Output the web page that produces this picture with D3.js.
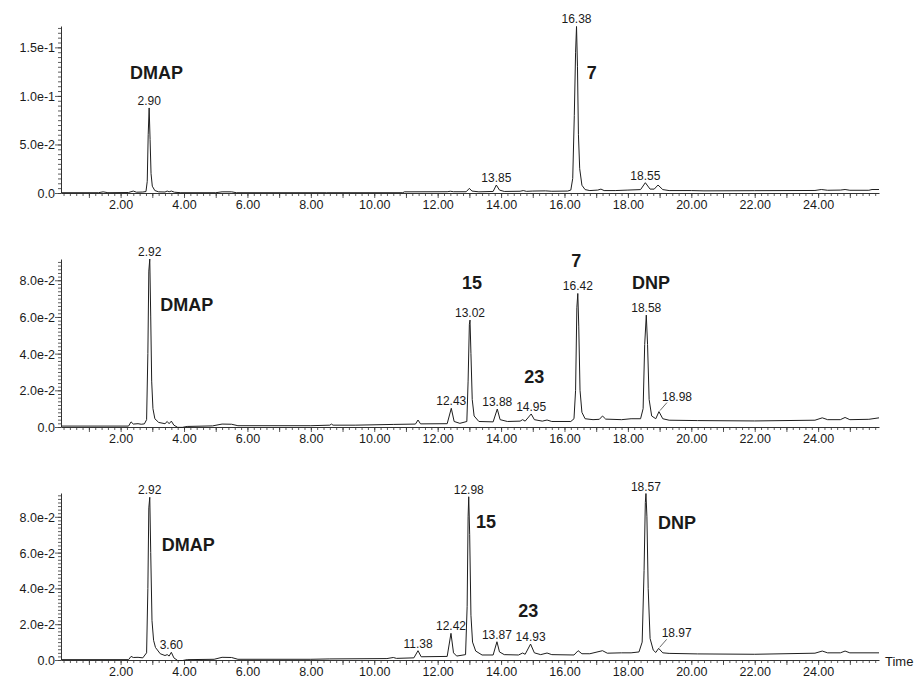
<!DOCTYPE html>
<html>
<head>
<meta charset="utf-8">
<script src="https://cdn.jsdelivr.net/npm/d3@7"></script>
<style>
  html, body { margin: 0; padding: 0; background: #fff; }
  svg { display: block; }
  text { font-family: "Liberation Sans", Arial, Helvetica, sans-serif; fill: #1a1a1a; }
</style>
</head>
<body>
<svg id="chart" width="919" height="679"></svg>
<script>
// ---- Chromatogram traces: retention time (min) and detector response ----
const trace1Time = [0.13,1.30,1.45,1.60,2.25,2.40,2.50,2.70,2.80,2.84,2.87,2.90,2.93,2.96,3.00,3.08,3.20,3.40,3.47,3.53,3.60,3.70,3.90,5.00,5.20,5.50,5.65,8.50,10.90,10.95,12.30,12.40,12.50,12.90,13.00,13.08,13.30,13.75,13.85,13.95,14.10,14.60,14.70,14.80,15.00,15.40,15.60,16.10,16.20,16.26,16.31,16.35,16.38,16.41,16.44,16.48,16.55,16.65,16.80,17.05,17.15,17.25,17.60,18.00,18.40,18.55,18.70,18.83,18.95,19.10,19.30,20.00,20.40,22.00,23.90,24.10,24.30,24.70,24.85,25.00,25.60,25.70,25.92];
const trace1Value = [0.0003,0.0003,0.0012,0.0003,0.0005,0.0020,0.0008,0.0010,0.0015,0.0120,0.0600,0.0876,0.0550,0.0200,0.0070,0.0025,0.0012,0.0010,0.0020,0.0012,0.0020,0.0008,0.0003,0.0003,0.0012,0.0012,0.0003,0.0003,0.0003,0.0012,0.0013,0.0018,0.0013,0.0013,0.0048,0.0020,0.0012,0.0016,0.0082,0.0030,0.0016,0.0018,0.0025,0.0017,0.0020,0.0022,0.0018,0.0020,0.0030,0.0150,0.0800,0.1450,0.1715,0.1300,0.0600,0.0250,0.0080,0.0035,0.0025,0.0030,0.0040,0.0025,0.0025,0.0030,0.0035,0.0106,0.0040,0.0040,0.0082,0.0035,0.0025,0.0025,0.0022,0.0024,0.0026,0.0036,0.0028,0.0030,0.0036,0.0028,0.0028,0.0036,0.0036];

const trace2Time = [0.13,2.25,2.33,2.40,2.55,2.65,2.75,2.82,2.86,2.89,2.92,2.95,2.98,3.02,3.08,3.20,3.40,3.47,3.53,3.60,3.68,3.80,3.95,4.10,4.90,5.20,5.50,5.70,8.00,8.60,8.65,8.70,9.40,10.60,11.30,11.38,11.46,12.30,12.43,12.52,12.70,12.92,12.96,13.00,13.02,13.05,13.09,13.15,13.30,13.75,13.88,13.97,14.20,14.60,14.68,14.76,14.95,15.05,15.30,15.45,15.60,16.20,16.30,16.35,16.39,16.42,16.45,16.49,16.55,16.65,16.90,17.10,17.20,17.30,17.80,18.10,18.40,18.48,18.53,18.58,18.62,18.67,18.75,18.88,18.98,19.10,19.30,20.20,22.00,23.90,24.13,24.30,24.70,24.85,25.00,25.60,25.92];
const trace2Value = [0.0005,0.0005,0.0028,0.0016,0.0018,0.0015,0.0017,0.0040,0.0400,0.0850,0.0916,0.0600,0.0250,0.0100,0.0045,0.0025,0.0018,0.0030,0.0018,0.0032,0.0010,-0.0002,-0.0002,0.0003,0.0006,0.0016,0.0015,0.0007,0.0007,0.0010,0.0016,0.0010,0.0010,0.0014,0.0016,0.0038,0.0017,0.0018,0.0102,0.0030,0.0020,0.0030,0.0250,0.0560,0.0583,0.0400,0.0150,0.0060,0.0030,0.0028,0.0098,0.0040,0.0030,0.0032,0.0040,0.0032,0.0071,0.0040,0.0032,0.0038,0.0030,0.0030,0.0045,0.0200,0.0650,0.0728,0.0550,0.0200,0.0080,0.0045,0.0040,0.0042,0.0060,0.0043,0.0040,0.0045,0.0045,0.0100,0.0450,0.0610,0.0450,0.0150,0.0060,0.0045,0.0084,0.0045,0.0037,0.0035,0.0033,0.0037,0.0050,0.0040,0.0040,0.0052,0.0040,0.0042,0.0050];

const trace3Time = [0.13,2.25,2.33,2.40,2.55,2.70,2.82,2.86,2.89,2.92,2.95,2.99,3.04,3.10,3.25,3.40,3.47,3.53,3.60,3.68,3.80,3.95,4.10,4.95,5.20,5.50,5.70,8.00,8.60,10.40,10.60,10.70,11.25,11.38,11.48,12.30,12.42,12.50,12.60,12.88,12.93,12.96,12.98,13.01,13.05,13.10,13.20,13.40,13.75,13.87,13.95,14.10,14.55,14.68,14.76,14.93,15.05,15.25,15.45,15.60,16.30,16.43,16.55,16.80,17.20,17.35,17.80,18.10,18.35,18.45,18.51,18.55,18.57,18.60,18.64,18.70,18.80,18.88,18.97,19.10,19.30,20.20,22.00,23.90,24.13,24.30,24.70,24.85,25.00,25.92];
const trace3Value = [0.0002,0.0002,0.0020,0.0014,0.0015,0.0012,0.0040,0.0400,0.0850,0.0909,0.0600,0.0220,0.0110,0.0070,0.0035,0.0025,0.0030,0.0022,0.0043,0.0012,-0.0003,-0.0003,0.0002,0.0004,0.0015,0.0014,0.0004,0.0004,0.0006,0.0008,0.0014,0.0009,0.0012,0.0052,0.0018,0.0020,0.0149,0.0040,0.0022,0.0030,0.0300,0.0800,0.0912,0.0700,0.0250,0.0100,0.0050,0.0028,0.0028,0.0102,0.0045,0.0030,0.0028,0.0039,0.0032,0.0089,0.0040,0.0030,0.0039,0.0030,0.0028,0.0052,0.0035,0.0035,0.0052,0.0038,0.0040,0.0040,0.0045,0.0100,0.0500,0.0880,0.0930,0.0800,0.0400,0.0120,0.0055,0.0042,0.0065,0.0040,0.0037,0.0034,0.0032,0.0038,0.0050,0.0040,0.0040,0.0050,0.0040,0.0040];

// ---- Labelled peaks (retention time shown above each apex) ----
const peaks1Time  = [2.90, 13.85, 16.38, 18.55];
const peaks1Label = ["2.90", "13.85", "16.38", "18.55"];
const peaks2Time  = [2.92, 12.43, 13.02, 13.88, 14.95, 16.42, 18.58, 18.98];
const peaks2Label = ["2.92", "12.43", "13.02", "13.88", "14.95", "16.42", "18.58", "18.98"];
const peaks3Time  = [2.92, 3.60, 11.38, 12.42, 12.98, 13.87, 14.93, 18.57, 18.97];
const peaks3Label = ["2.92", "3.60", "11.38", "12.42", "12.98", "13.87", "14.93", "18.57", "18.97"];

// ---- Compound names ----
const names1 = ["DMAP", "7"];
const names2 = ["DMAP", "15", "23", "7", "DNP"];
const names3 = ["DMAP", "15", "23", "DNP"];

// ---- Axes ----
const timeDomain = [0.12, 25.92];
const timeTicks = [2, 4, 6, 8, 10, 12, 14, 16, 18, 20, 22, 24];
const timeTickLabels = ["2.00", "4.00", "6.00", "8.00", "10.00", "12.00", "14.00", "16.00", "18.00", "20.00", "22.00", "24.00"];
const timeMidTicks = [1, 3, 5, 7, 9, 11, 13, 15, 17, 19, 21, 23, 25];
const yMax = [0.172, 0.0916, 0.0933];
const yTicks1 = [0, 0.05, 0.10, 0.15];
const yTickLabels1 = ["0.0", "5.0e-2", "1.0e-1", "1.5e-1"];
const yTicks23 = [0, 0.02, 0.04, 0.06, 0.08];
const yTickLabels23 = ["0.0", "2.0e-2", "4.0e-2", "6.0e-2", "8.0e-2"];
const yMinorStep = [0.005, 0.002, 0.002];

// ---- Layout ----
const svg = d3.select("#chart");
const left = 61, right = 879;
const panelTop = [26, 259, 493];
const panelBottom = [193, 427, 660];

// compound-name placement (in data coordinates of each panel)
const namePos = [
  [[2.30, 0.1175], [16.70, 0.117]],
  [[3.25, 0.063], [12.77, 0.075], [14.73, 0.024], [16.21, 0.087], [18.13, 0.075]],
  [[3.30, 0.061], [13.21, 0.074], [14.54, 0.024], [18.95, 0.073]]
];
// small captions that sit to the upper right of their peak with a leader line
const leaderPeaks = [[], [18.98], [18.97]];

const x = d3.scaleLinear().domain(timeDomain).range([left, right]);

const traces = [
  [trace1Time, trace1Value],
  [trace2Time, trace2Value],
  [trace3Time, trace3Value]
];
const peakSets = [[peaks1Time, peaks1Label], [peaks2Time, peaks2Label], [peaks3Time, peaks3Label]];
const nameSets = [names1, names2, names3];
const yTickSets = [[yTicks1, yTickLabels1], [yTicks23, yTickLabels23], [yTicks23, yTickLabels23]];

function range(a, b, step) {
  const out = [];
  for (let i = 0; a + i * step <= b + 1e-9; i++) out.push(+(a + i * step).toFixed(4));
  return out;
}

traces.forEach(([tt, vv], p) => {
  const y = d3.scaleLinear().domain([0, yMax[p]]).range([panelBottom[p], panelTop[p]]);
  const g = svg.append("g");

  // x axis: minor ticks, odd-minute ticks and labelled ticks
  const minorX = range(0.2, 25.8, 0.2);
  const axMinor = d3.axisBottom(x).tickValues(minorX).tickSize(3).tickSizeOuter(0).tickFormat("");
  g.append("g").attr("transform", `translate(0,${panelBottom[p]})`).call(axMinor);
  const axMid = d3.axisBottom(x).tickValues(timeMidTicks).tickSize(5).tickSizeOuter(0).tickFormat("");
  g.append("g").attr("transform", `translate(0,${panelBottom[p]})`).call(axMid).select(".domain").remove();
  const axMajor = d3.axisBottom(x).tickValues(timeTicks).tickSize(5).tickSizeOuter(0)
    .tickFormat((d, i) => timeTickLabels[i]);
  const gx = g.append("g").attr("transform", `translate(0,${panelBottom[p]})`).call(axMajor);
  gx.select(".domain").remove();
  gx.selectAll("text").attr("font-size", 12.5).attr("dy", "0.95em").attr("y", 4).attr("fill", "#1a1a1a");

  // y axis
  const [yt, yl] = yTickSets[p];
  const minorY = range(0, yMax[p], yMinorStep[p]);
  const ayMinor = d3.axisLeft(y).tickValues(minorY).tickSize(3).tickSizeOuter(0).tickFormat("");
  g.append("g").attr("transform", `translate(${left},0)`).call(ayMinor);
  const ayMajor = d3.axisLeft(y).tickValues(yt).tickSize(6).tickSizeOuter(0).tickFormat((d, i) => yl[i]);
  const gy = g.append("g").attr("transform", `translate(${left},0)`).call(ayMajor);
  gy.select(".domain").remove();
  gy.selectAll("text").attr("font-size", 12.5).attr("x", -6).attr("dy", "0.36em").attr("fill", "#1a1a1a");

  g.selectAll(".tick line").attr("stroke", "#333").attr("stroke-width", 0.8);
  g.selectAll(".domain").attr("stroke", "#333").attr("stroke-width", 1);

  // trace
  const pts = tt.map((t, i) => [t, vv[i]]);
  const line = d3.line().x(d => x(d[0])).y(d => y(d[1]));
  g.append("path").datum(pts).attr("d", line)
    .attr("fill", "none").attr("stroke", "#1e1e1e").attr("stroke-width", 1)
    .attr("stroke-linejoin", "round");

  // peak captions
  const [pt, pl] = peakSets[p];
  pt.forEach((t, i) => {
    const idx = d3.minIndex(tt, v => Math.abs(v - t));
    const top = vv[idx];
    if (leaderPeaks[p].includes(t)) {
      const x0 = x(t) + 1, y0 = y(top) - 1;
      g.append("line").attr("x1", x0).attr("y1", y0).attr("x2", x0 + 7).attr("y2", y0 - 8)
        .attr("stroke", "#444").attr("stroke-width", 0.8);
      g.append("text").attr("x", x0 + 2).attr("y", y0 - 10).attr("font-size", 12).text(pl[i]);
    } else {
      g.append("text").attr("x", x(t)).attr("y", y(top) - 3)
        .attr("text-anchor", "middle").attr("font-size", 12).text(pl[i]);
    }
  });

  // compound names
  nameSets[p].forEach((n, i) => {
    const [t, v] = namePos[p][i];
    g.append("text").attr("x", x(t)).attr("y", y(v)).attr("font-size", 18)
      .attr("font-weight", "bold").attr("fill", "#000").text(n);
  });
});

svg.append("text").attr("x", 885).attr("y", 666).attr("font-size", 13).text("Time");
</script>
</body>
</html>
